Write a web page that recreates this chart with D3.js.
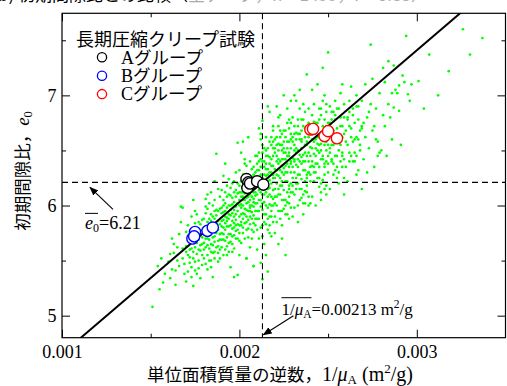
<!DOCTYPE html>
<html><head><meta charset="utf-8">
<script src="https://cdn.jsdelivr.net/npm/d3@7"></script>
<style>body{margin:0;background:#fff}svg{display:block}</style>
</head><body>
<script>
// x values in units of 10^-3 m^2/g
const xTicksMajor = [1, 2, 3];
const xTickLabels = ["0.001", "0.002", "0.003"];
const xTicksMinor = [1.5, 2.5];
const yTicksMajor = [5, 6, 7];
const yTickLabels = ["5", "6", "7"];
const yTicksMinor = [5.5, 6.5, 7.5];
const meanInvMu = 2.13;
const meanE0 = 6.21;
const regSlope = 1.378, regIntercept = 3.275;
const legendTitle = "長期圧縮クリープ試験";
const groupNames = ["A", "B", "C"];
const groupA = [[2.04,6.24],[2.05,6.21],[2.045,6.16],[2.06,6.20],[2.10,6.22],[2.135,6.19]];
const groupB = [[1.75,5.76],[1.735,5.70],[1.745,5.72],[1.82,5.77],[1.85,5.80]];
const groupC = [[2.40,6.69],[2.415,6.695],[2.48,6.63],[2.50,6.675],[2.55,6.61]];
const greenPoints = [
[1.51,5.08],[1.55,5.24],[1.57,5.30],[1.54,5.45],[1.58,5.38],[1.56,5.52],
[1.61,5.34],[1.62,5.42],[1.63,5.57],[1.60,5.49],[1.64,5.28],[1.65,5.62],[1.66,5.45],[1.62,5.70],[1.67,5.99],[1.67,5.85],[1.68,5.52],[1.69,5.38],[1.63,5.65],[1.65,5.50],[1.66,5.74],[1.68,5.61],[1.69,5.47],[1.64,5.41],[1.61,5.56],[1.68,5.98],
[1.70,5.31],[1.71,5.55],[1.72,5.68],[1.73,5.44],[1.74,5.27],[1.75,5.62],[1.76,5.79],[1.77,5.50],[1.78,5.34],[1.79,5.71],[1.70,5.63],[1.71,5.82],[1.72,5.48],[1.73,5.90],[1.74,5.58],[1.75,5.41],[1.76,5.66],[1.77,5.85],[1.78,5.59],[1.79,5.46],[1.72,5.74],[1.74,5.52],[1.76,5.38],[1.78,5.77],[1.71,5.40],[1.73,5.61],[1.75,5.95],[1.77,5.69],[1.79,5.87],[1.70,5.76],[1.74,6.05],[1.76,5.56],[1.78,5.64],[1.72,5.60],[1.75,5.73],
[1.80,5.52],[1.81,5.70],[1.82,5.85],[1.83,5.61],[1.84,5.44],[1.85,5.35],[1.86,5.79],[1.87,5.96],[1.88,5.68],[1.89,5.83],[1.80,5.88],[1.81,5.47],[1.82,5.64],[1.83,6.02],[1.84,5.77],[1.85,5.90],[1.86,5.58],[1.87,6.47],[1.88,5.49],[1.89,6.08],[1.80,5.66],[1.81,5.93],[1.82,5.55],[1.83,5.80],[1.84,6.12],[1.85,5.71],[1.86,5.95],[1.87,5.62],[1.88,5.86],[1.89,5.74],[1.81,5.81],[1.83,5.69],[1.85,5.57],[1.87,5.75],[1.89,5.60],[1.80,5.74],[1.82,5.97],[1.84,5.65],[1.86,5.88],[1.88,6.15],[1.82,5.42],[1.84,5.92],[1.86,5.67],[1.88,5.78],[1.81,6.06],[1.83,5.50],[1.85,6.00],[1.87,5.84],[1.89,5.52],[1.86,6.22],
[1.90,5.62],[1.91,5.80],[1.92,5.95],[1.93,5.71],[1.94,6.10],[1.95,5.44],[1.96,5.86],[1.97,6.03],[1.98,5.77],[1.99,6.57],[1.90,5.98],[1.91,5.55],[1.92,5.84],[1.93,6.18],[1.94,5.92],[1.95,5.67],[1.96,6.07],[1.97,5.73],[1.98,5.99],[1.99,5.37],[1.90,5.75],[1.91,6.05],[1.92,5.68],[1.93,5.89],[1.94,5.58],[1.95,6.00],[1.96,5.79],[1.97,6.22],[1.98,5.87],[1.99,6.11],[1.90,5.86],[1.91,5.94],[1.92,6.12],[1.93,5.81],[1.94,5.74],[1.95,5.91],[1.96,5.65],[1.97,5.96],[1.98,6.30],[1.99,5.83],[1.91,5.69],[1.93,5.98],[1.95,5.82],[1.97,5.61],[1.99,5.95],[1.90,6.14],[1.92,5.78],[1.94,5.88],[1.96,6.20],[1.98,5.70],[1.91,6.27],[1.93,5.63],[1.95,6.09],[1.97,5.90],[1.99,6.02],[1.92,6.38],[1.94,6.00],[1.96,5.93],[1.98,6.08],[1.97,5.35],
[2.00,5.75],[2.01,5.92],[2.02,6.08],[2.03,5.84],[2.04,5.52],[2.05,6.20],[2.06,5.98],[2.07,6.14],[2.08,5.45],[2.09,6.30],[2.00,6.05],[2.01,6.22],[2.02,5.80],[2.03,6.11],[2.04,5.96],[2.05,5.71],[2.06,6.27],[2.07,5.88],[2.08,6.03],[2.09,6.45],[2.00,5.90],[2.01,5.66],[2.02,6.16],[2.03,6.38],[2.04,6.07],[2.05,5.87],[2.06,6.10],[2.07,5.78],[2.08,6.21],[2.09,5.95],[2.00,6.18],[2.01,6.01],[2.02,5.93],[2.03,5.97],[2.04,6.25],[2.05,6.03],[2.06,5.83],[2.07,6.33],[2.08,5.91],[2.09,6.09],[2.01,6.48],[2.03,5.70],[2.05,6.13],[2.07,6.00],[2.09,5.82],[2.00,6.32],[2.02,6.00],[2.04,5.85],[2.06,6.40],[2.08,6.12],[2.01,5.82],[2.03,6.26],[2.05,5.95],[2.07,6.19],[2.09,6.02],[2.02,6.58],[2.04,6.15],[2.06,5.62],[2.08,5.99],[2.00,5.55],[2.04,5.52],[2.08,5.45],[2.05,6.62],[2.03,6.05],[2.07,5.94],[2.01,6.12],[2.09,6.18],[2.06,6.05],[2.02,5.88],[2.08,6.28],
[2.10,5.88],[2.11,6.05],[2.12,6.22],[2.13,5.96],[2.14,6.40],[2.15,6.12],[2.16,5.78],[2.17,6.30],[2.18,6.08],[2.19,6.52],[2.10,6.18],[2.11,5.70],[2.12,6.35],[2.13,6.10],[2.14,5.92],[2.15,6.27],[2.16,6.45],[2.17,6.01],[2.18,6.20],[2.19,5.85],[2.10,6.32],[2.11,6.48],[2.12,5.99],[2.13,6.25],[2.14,6.15],[2.15,5.83],[2.16,6.08],[2.17,6.58],[2.18,5.95],[2.19,6.36],[2.10,6.02],[2.11,6.25],[2.12,6.12],[2.13,6.40],[2.14,6.03],[2.15,6.50],[2.16,6.22],[2.17,5.90],[2.18,6.42],[2.19,6.14],[2.10,5.60],[2.12,5.48],[2.14,5.65],[2.16,5.40],[2.18,5.72],[2.11,6.70],[2.13,6.77],[2.15,6.62],[2.17,6.85],[2.19,6.68],[2.10,6.45],[2.11,6.14],[2.12,6.60],[2.13,5.82],[2.14,6.28],[2.15,6.00],[2.16,6.33],[2.17,6.16],[2.18,6.55],[2.19,6.00],[2.11,5.95],[2.13,6.55],[2.15,6.38],[2.17,6.44],[2.19,6.25],[2.12,5.80],[2.14,6.52],[2.16,5.98],[2.18,6.30],[2.10,6.25],[2.13,5.33],[2.15,5.55],[2.17,5.75],[2.19,6.72],[2.16,6.90],
[2.20,6.02],[2.21,6.20],[2.22,6.38],[2.23,6.10],[2.24,6.55],[2.25,6.28],[2.26,5.92],[2.27,6.45],[2.28,6.18],[2.29,6.65],[2.20,6.33],[2.21,5.85],[2.22,6.50],[2.23,6.25],[2.24,6.05],[2.25,6.42],[2.26,6.62],[2.27,6.12],[2.28,6.35],[2.29,5.98],[2.20,6.48],[2.21,6.62],[2.22,6.15],[2.23,6.40],[2.24,6.30],[2.25,5.97],[2.26,6.22],[2.27,6.75],[2.28,6.08],[2.29,6.52],[2.20,6.15],[2.21,6.40],[2.22,6.27],[2.23,6.55],[2.24,6.18],[2.25,6.68],[2.26,6.36],[2.27,6.03],[2.28,6.58],[2.29,6.30],[2.20,5.75],[2.22,5.65],[2.24,5.82],[2.26,5.55],[2.28,5.88],[2.21,6.90],[2.23,6.82],[2.25,7.00],[2.27,6.88],[2.29,6.95],[2.20,6.60],[2.21,6.28],[2.22,6.72],[2.23,5.95],[2.24,6.42],[2.25,6.14],[2.26,6.48],[2.27,6.30],[2.28,6.70],[2.29,6.12],[2.21,6.08],[2.23,6.68],[2.25,6.52],[2.27,6.58],[2.29,6.40],[2.22,5.95],[2.24,6.65],[2.26,6.05],[2.28,6.45],[2.24,5.70],
[2.30,6.12],[2.31,6.30],[2.32,6.48],[2.33,6.20],[2.34,6.65],[2.35,6.38],[2.36,6.02],[2.37,6.55],[2.38,6.28],[2.39,6.75],[2.30,6.43],[2.31,5.98],[2.32,6.60],[2.33,6.35],[2.34,6.15],[2.35,6.52],[2.36,6.72],[2.37,6.22],[2.38,6.45],[2.39,6.08],[2.30,6.58],[2.31,6.72],[2.32,6.25],[2.33,6.50],[2.34,6.40],[2.35,6.07],[2.36,6.32],[2.37,6.85],[2.38,6.18],[2.39,6.62],[2.30,6.25],[2.31,6.50],[2.32,6.37],[2.33,6.65],[2.34,6.28],[2.35,6.78],[2.36,6.46],[2.37,6.13],[2.38,6.68],[2.39,6.40],[2.30,5.90],[2.33,5.85],[2.36,5.92],[2.39,6.00],[2.31,7.00],[2.34,7.05],[2.38,7.19],[2.32,6.95],[2.36,6.92],[2.30,6.80],[2.32,6.15],[2.34,6.88],[2.35,6.24],[2.37,6.40],[2.39,6.30],[2.31,6.40],[2.33,6.78],[2.35,6.60],[2.37,6.70],[2.38,6.55],
[2.40,6.22],[2.41,6.40],[2.42,6.58],[2.43,6.30],[2.44,6.75],[2.45,6.48],[2.46,6.12],[2.47,6.65],[2.48,6.38],[2.49,6.85],[2.40,6.53],[2.41,6.08],[2.42,6.70],[2.43,6.45],[2.44,6.25],[2.45,6.62],[2.46,6.82],[2.47,7.25],[2.48,6.55],[2.49,6.18],[2.40,6.68],[2.41,6.82],[2.42,6.35],[2.43,6.60],[2.44,6.50],[2.45,6.17],[2.46,6.42],[2.47,6.95],[2.48,6.28],[2.49,6.72],[2.40,6.35],[2.41,6.60],[2.42,6.47],[2.43,6.75],[2.44,6.38],[2.45,6.88],[2.46,6.56],[2.47,6.23],[2.48,6.78],[2.49,6.50],[2.40,6.02],[2.43,6.00],[2.46,6.05],[2.49,6.10],[2.41,7.05],[2.44,7.10],[2.42,6.92],[2.45,6.35],[2.47,6.45],[2.48,7.00],
[2.50,6.30],[2.51,6.48],[2.52,6.65],[2.53,6.38],[2.54,6.82],[2.55,6.57],[2.56,6.20],[2.57,6.72],[2.58,6.45],[2.59,6.92],[2.50,7.39],[2.51,6.15],[2.52,6.78],[2.53,6.55],[2.54,6.32],[2.55,6.70],[2.56,6.88],[2.57,6.40],[2.58,6.62],[2.59,6.25],[2.50,6.75],[2.51,6.90],[2.52,6.42],[2.53,6.68],[2.54,6.58],[2.55,6.25],[2.56,6.50],[2.57,7.02],[2.58,6.35],[2.59,6.80],[2.50,6.45],[2.52,6.55],[2.54,6.95],[2.56,6.62],[2.58,7.10],[2.51,6.62],[2.53,6.85],[2.55,6.45],[2.57,6.55],[2.59,6.10],
[2.60,6.35],[2.61,6.55],[2.62,6.72],[2.63,6.45],[2.64,6.88],[2.65,6.60],[2.66,6.28],[2.67,6.78],[2.68,6.50],[2.69,6.95],[2.60,6.68],[2.61,6.22],[2.62,6.85],[2.63,6.62],[2.64,6.40],[2.65,6.75],[2.66,7.00],[2.67,6.32],[2.68,6.68],[2.69,6.15],[2.61,6.80],[2.63,7.08],[2.65,6.48],[2.67,6.60],[2.69,6.70],[2.62,6.40],[2.64,6.58],[2.66,6.90],
[2.70,6.42],[2.71,6.62],[2.72,6.80],[2.73,6.52],[2.74,7.46],[2.75,6.68],[2.76,6.35],[2.77,6.88],[2.78,6.58],[2.79,7.02],[2.70,6.75],[2.72,6.30],[2.74,6.92],[2.76,6.72],[2.78,6.45],[2.71,7.10],[2.73,6.85],[2.75,7.15],[2.77,6.60],[2.79,6.48],
[2.80,6.50],[2.82,6.72],[2.84,6.92],[2.86,6.60],[2.88,7.05],[2.81,7.25],[2.83,6.45],[2.85,6.80],[2.87,6.89],[2.89,7.02],[2.82,7.12],[2.84,7.31],[2.81,6.82],[2.87,7.27],[2.86,7.02],
[2.90,6.86],[2.92,7.18],[2.94,7.54],[2.96,6.95],[2.95,7.01],[2.91,6.55],[2.93,7.12],[2.97,7.10],[2.90,7.09],
[3.01,7.13],[3.04,6.88],[3.07,7.37],[3.12,7.00],[3.18,7.22],[3.26,7.60],[3.30,7.37],[3.37,7.52],
[1.70,5.58],[1.72,5.53],[1.73,5.77],[1.74,5.66],[1.75,5.49],[1.76,5.71],[1.77,5.60],[1.78,5.83],[1.79,5.55],[1.71,5.68],[1.73,5.35],[1.75,5.84],[1.77,5.43],[1.79,5.65],[1.76,5.92],
[1.80,5.80],[1.81,5.62],[1.82,5.76],[1.83,5.88],[1.84,5.58],[1.85,5.83],[1.86,5.72],[1.87,5.91],[1.88,5.63],[1.89,5.97],[1.80,5.60],[1.81,5.99],[1.82,5.70],[1.83,5.75],[1.84,5.86],[1.85,5.64],[1.86,5.52],[1.87,5.80],[1.88,5.95],[1.89,5.69],[1.82,6.10],[1.84,5.50],[1.86,6.05],[1.88,5.57],[1.85,5.78],
[1.90,5.93],[1.91,5.74],[1.92,6.02],[1.93,5.86],[1.94,5.66],[1.95,5.96],[1.96,5.72],[1.97,5.84],[1.98,6.14],[1.99,5.78],[1.90,5.69],[1.91,6.00],[1.92,5.90],[1.93,6.08],[1.94,5.81],[1.95,5.74],[1.96,6.01],[1.97,6.12],[1.98,5.92],[1.99,5.70],[1.91,5.87],[1.93,5.55],[1.95,6.16],[1.97,5.80],[1.99,6.20],[1.90,5.81],[1.92,5.60],[1.94,6.24],[1.96,5.58],[1.98,5.82],
[2.00,6.00],[2.01,5.85],[2.02,6.12],[2.03,5.92],[2.04,6.02],[2.05,6.28],[2.06,5.90],[2.07,6.08],[2.08,5.84],[2.09,6.22],[2.00,5.82],[2.01,6.08],[2.02,5.75],[2.03,6.18],[2.04,5.90],[2.05,6.08],[2.06,6.18],[2.07,5.70],[2.08,6.35],[2.09,5.88],[2.00,6.12],[2.02,6.28],[2.04,5.78],[2.06,5.95],[2.08,6.06],[2.01,5.98],[2.03,6.42],[2.05,5.79],[2.07,6.26],[2.09,6.12],[2.00,5.68],[2.02,6.05],[2.04,6.36],[2.06,6.00],[2.08,5.76],
[2.10,6.10],[2.11,6.32],[2.12,6.05],[2.13,6.18],[2.14,6.35],[2.15,5.92],[2.16,6.15],[2.17,6.38],[2.18,6.00],[2.19,6.28],[2.10,5.95],[2.11,6.18],[2.12,6.42],[2.13,6.02],[2.14,6.22],[2.15,6.45],[2.16,5.88],[2.17,6.10],[2.18,6.36],[2.19,6.06],[2.10,6.38],[2.11,5.88],[2.12,6.28],[2.13,6.48],[2.14,5.85],[2.15,6.20],[2.16,6.52],[2.17,6.23],[2.18,5.90],[2.19,6.45],[2.11,6.40],[2.13,5.72],[2.15,6.33],[2.17,5.82],[2.19,6.58],[2.10,5.78],[2.12,6.65],[2.14,6.10],[2.16,6.28],[2.18,6.62],
[2.20,6.25],[2.21,6.45],[2.22,6.10],[2.23,6.32],[2.24,6.50],[2.25,6.05],[2.26,6.30],[2.27,6.52],[2.28,6.15],[2.29,6.38],[2.20,6.08],[2.21,6.32],[2.22,6.56],[2.23,6.18],[2.24,6.36],[2.25,6.58],[2.26,6.00],[2.27,6.22],[2.28,6.48],[2.29,6.20],[2.20,6.52],[2.21,6.00],[2.22,6.42],[2.23,6.62],[2.24,5.95],[2.25,6.34],[2.26,6.68],[2.27,6.38],[2.28,6.02],[2.29,6.60],[2.21,6.55],[2.23,5.88],[2.25,6.48],[2.27,5.92],[2.29,6.75],[2.20,5.90],[2.22,6.80],[2.24,6.22],[2.26,6.42],[2.28,6.78],
[2.30,6.35],[2.31,6.55],[2.32,6.20],[2.33,6.42],[2.34,6.60],[2.35,6.15],[2.36,6.40],[2.37,6.62],[2.38,6.25],[2.39,6.48],[2.30,6.18],[2.31,6.42],[2.32,6.66],[2.33,6.28],[2.34,6.46],[2.35,6.68],[2.36,6.10],[2.37,6.32],[2.38,6.58],[2.39,6.30],[2.30,6.62],[2.31,6.10],[2.32,6.52],[2.33,6.72],[2.34,6.05],[2.35,6.44],[2.36,6.78],[2.37,6.48],[2.38,6.12],[2.39,6.70],[2.31,6.65],[2.33,6.00],[2.35,6.58],[2.37,6.02],[2.39,6.88],
[2.40,6.45],[2.41,6.65],[2.42,6.30],[2.43,6.52],[2.44,6.70],[2.45,6.25],[2.46,6.50],[2.47,6.72],[2.48,6.35],[2.49,6.58],[2.40,6.28],[2.41,6.52],[2.42,6.76],[2.43,6.38],[2.44,6.56],[2.45,6.78],[2.46,6.20],[2.47,6.42],[2.48,6.68],[2.49,6.40],[2.40,6.72],[2.42,6.22],[2.44,6.62],[2.46,6.88],[2.48,6.15],[2.41,6.36],[2.45,6.55],[2.49,6.92],
[2.50,6.55],[2.51,6.75],[2.52,6.40],[2.53,6.62],[2.54,6.78],[2.55,6.35],[2.56,6.58],[2.57,6.80],[2.58,6.48],[2.59,6.65],[2.50,6.38],[2.52,6.85],[2.54,6.45],[2.56,6.30],[2.58,6.72],[2.51,6.52],[2.53,6.28],[2.55,6.88],[2.57,6.62],[2.59,6.42],
[2.60,6.58],[2.61,6.78],[2.62,6.48],[2.63,6.70],[2.64,6.82],[2.65,6.40],[2.66,6.62],[2.67,6.90],[2.68,6.55],[2.69,6.72],[2.62,6.95],[2.66,6.45]
];

const W = 507, H = 386;
const L = 62, R = 505.5, T = 13.3, B = 337.7;
const x = d3.scaleLinear().domain([1, 3.5]).range([L, R]);
const y = d3.scaleLinear().domain([4.8, 7.745]).range([B, T]);
const serif = "'Liberation Serif','Times New Roman',serif";
const gothic = "'Noto Sans CJK JP','Noto Sans',sans-serif";

const svg = d3.select("body").append("svg").attr("width", W).attr("height", H);

// partially visible caption at top (cut off by the page edge, as in the source figure)
const cap = svg.append("text").attr("x", -2).attr("y", 1).attr("font-family", gothic).attr("font-size", 17);
cap.append("tspan").attr("fill", "#000").text("b) 初期間隙比との比較（");
cap.append("tspan").attr("fill", "#aaa").text("全データ，n = 1455，r = 0.83）");

svg.append("defs").append("clipPath").attr("id", "clip")
  .append("rect").attr("x", L).attr("y", T).attr("width", R - L).attr("height", B - T);
const plot = svg.append("g").attr("clip-path", "url(#clip)");

plot.append("g").selectAll("circle").data(greenPoints).join("circle")
  .attr("cx", d => x(d[0])).attr("cy", d => y(d[1])).attr("r", 1.35).attr("fill", "#00ff00");

// mean lines
plot.append("line").attr("x1", L).attr("x2", R).attr("y1", y(meanE0)).attr("y2", y(meanE0))
  .attr("stroke", "#000").attr("stroke-width", 1.1).attr("stroke-dasharray", "6,4");
plot.append("line").attr("x1", x(meanInvMu)).attr("x2", x(meanInvMu)).attr("y1", T).attr("y2", B)
  .attr("stroke", "#000").attr("stroke-width", 1.1).attr("stroke-dasharray", "6,4");

// regression line
const regX = x.domain();
plot.append("path").datum(regX.map(v => [v, regIntercept + regSlope * v]))
  .attr("d", d3.line().x(d => x(d[0])).y(d => y(d[1])))
  .attr("fill", "none").attr("stroke", "#000").attr("stroke-width", 2);

// groups
const groups = [[groupA, "#000"], [groupB, "#0000ff"], [groupC, "#ff0000"]];
groups.forEach(([data, col]) => {
  plot.append("g").selectAll("circle").data(data).join("circle")
    .attr("cx", d => x(d[0])).attr("cy", d => y(d[1])).attr("r", 5.6)
    .attr("fill", "#fff").attr("stroke", col).attr("stroke-width", 1.4);
});

// axes
function styleAxis(g) {
  g.select(".domain").remove();
  g.selectAll(".tick line").attr("stroke", "#000").attr("stroke-width", 1);
  g.selectAll(".tick text").attr("font-family", serif).attr("font-size", 18).attr("fill", "#000");
}
svg.append("g").attr("transform", `translate(0,${B})`)
  .call(d3.axisBottom(x).tickValues(xTicksMajor).tickFormat((d, i) => xTickLabels[i]).tickSizeInner(-8).tickSizeOuter(0).tickPadding(7.5)).call(styleAxis);
svg.append("g").attr("transform", `translate(0,${B})`)
  .call(d3.axisBottom(x).tickValues(xTicksMinor).tickFormat("").tickSizeInner(-4).tickSizeOuter(0)).call(styleAxis);
svg.append("g").attr("transform", `translate(0,${T})`)
  .call(d3.axisTop(x).tickValues(xTicksMajor).tickFormat("").tickSizeInner(-8).tickSizeOuter(0)).call(styleAxis);
svg.append("g").attr("transform", `translate(0,${T})`)
  .call(d3.axisTop(x).tickValues(xTicksMinor).tickFormat("").tickSizeInner(-4).tickSizeOuter(0)).call(styleAxis);
svg.append("g").attr("transform", `translate(${L},0)`)
  .call(d3.axisLeft(y).tickValues(yTicksMajor).tickFormat((d, i) => yTickLabels[i]).tickSizeInner(-8).tickSizeOuter(0).tickPadding(5.5)).call(styleAxis);
svg.append("g").attr("transform", `translate(${L},0)`)
  .call(d3.axisLeft(y).tickValues(yTicksMinor).tickFormat("").tickSizeInner(-4).tickSizeOuter(0)).call(styleAxis);
svg.append("g").attr("transform", `translate(${R},0)`)
  .call(d3.axisRight(y).tickValues(yTicksMajor).tickFormat("").tickSizeInner(-8).tickSizeOuter(0)).call(styleAxis);
svg.append("g").attr("transform", `translate(${R},0)`)
  .call(d3.axisRight(y).tickValues(yTicksMinor).tickFormat("").tickSizeInner(-4).tickSizeOuter(0)).call(styleAxis);
svg.append("rect").attr("x", L).attr("y", T).attr("width", R - L).attr("height", B - T)
  .attr("fill", "none").attr("stroke", "#000").attr("stroke-width", 1.2);

// axis titles
const xt = svg.append("text").attr("x", 147).attr("y", 381).attr("text-anchor", "start").attr("fill", "#000");
xt.append("tspan").attr("font-family", gothic).attr("font-size", 17.5).text("単位面積質量の逆数，");
xt.append("tspan").attr("font-family", serif).attr("font-size", 20).text("1/");
xt.append("tspan").attr("font-family", serif).attr("font-size", 20).attr("font-style", "italic").text("μ");
xt.append("tspan").attr("font-family", serif).attr("font-size", 13).attr("dy", 3).text("A");
xt.append("tspan").attr("font-family", serif).attr("font-size", 20).attr("dy", -3).text(" (m");
xt.append("tspan").attr("font-family", serif).attr("font-size", 13).attr("dy", -8).text("2");
xt.append("tspan").attr("font-family", serif).attr("font-size", 20).attr("dy", 8).text("/g)");

const yt = svg.append("text").attr("transform", `translate(29,171) rotate(-90)`)
  .attr("text-anchor", "middle").attr("fill", "#000");
yt.append("tspan").attr("font-family", gothic).attr("font-size", 17.5).text("初期間隙比，");
yt.append("tspan").attr("font-family", serif).attr("font-size", 19).attr("font-style", "italic").text("e");
yt.append("tspan").attr("font-family", serif).attr("font-size", 12.5).attr("dy", 3).text("0");

// legend
svg.append("text").attr("x", L + 14).attr("y", 46).attr("font-family", gothic).attr("font-size", 18)
  .attr("fill", "#000").text(legendTitle);
const legCols = ["#000", "#0000ff", "#ff0000"];
groupNames.forEach((nm, i) => {
  const cy = 57.3 + i * 18.4;
  svg.append("circle").attr("cx", L + 40).attr("cy", cy).attr("r", 4.6)
    .attr("fill", "#fff").attr("stroke", legCols[i]).attr("stroke-width", 1.3);
  const t = svg.append("text").attr("x", L + 59).attr("y", cy + 6.2).attr("fill", "#000");
  t.append("tspan").attr("font-family", serif).attr("font-size", 18).text(nm);
  t.append("tspan").attr("font-family", gothic).attr("font-size", 17.5).text("グループ");
});

// annotations
const arrowDefs = svg.select("defs");
arrowDefs.append("marker").attr("id", "ah").attr("viewBox", "0 0 10 10").attr("refX", 9).attr("refY", 5)
  .attr("markerWidth", 9).attr("markerHeight", 9).attr("markerUnits", "userSpaceOnUse").attr("orient", "auto")
  .append("path").attr("d", "M0,1 L10,5 L0,9 Z").attr("fill", "#000");

const eY = y(meanE0);
svg.append("line").attr("x1", 113).attr("y1", eY + 27).attr("x2", 90).attr("y2", eY + 5)
  .attr("stroke", "#000").attr("stroke-width", 1.1).attr("marker-end", "url(#ah)");
const ea = svg.append("text").attr("x", 85).attr("y", eY + 46.5).attr("font-family", serif).attr("font-size", 18).attr("fill", "#000");
ea.append("tspan").attr("font-style", "italic").text("e");
ea.append("tspan").attr("font-size", 12).attr("dy", 3).text("0");
ea.append("tspan").attr("dy", -3).text("=" + meanE0.toFixed(2));
svg.append("line").attr("x1", 85).attr("x2", 98).attr("y1", eY + 31).attr("y2", eY + 31).attr("stroke", "#000").attr("stroke-width", 1);

const mX = x(meanInvMu);
svg.append("line").attr("x1", mX + 31).attr("y1", B - 22).attr("x2", mX + 1).attr("y2", B - 3)
  .attr("stroke", "#000").attr("stroke-width", 1.1).attr("marker-end", "url(#ah)");
const ma = svg.append("text").attr("x", mX + 19).attr("y", B - 23).attr("font-family", serif).attr("font-size", 17).attr("fill", "#000");
ma.append("tspan").text("1/");
ma.append("tspan").attr("font-style", "italic").text("μ");
ma.append("tspan").attr("font-size", 11.5).attr("dy", 3).text("A");
ma.append("tspan").attr("dy", -3).text("=" + (meanInvMu / 1000).toFixed(5) + " m");
ma.append("tspan").attr("font-size", 11.5).attr("dy", -7).text("2");
ma.append("tspan").attr("dy", 7).text("/g");
svg.append("line").attr("x1", mX + 19).attr("x2", mX + 49).attr("y1", B - 40).attr("y2", B - 40).attr("stroke", "#000").attr("stroke-width", 1);
</script>
</body></html>
